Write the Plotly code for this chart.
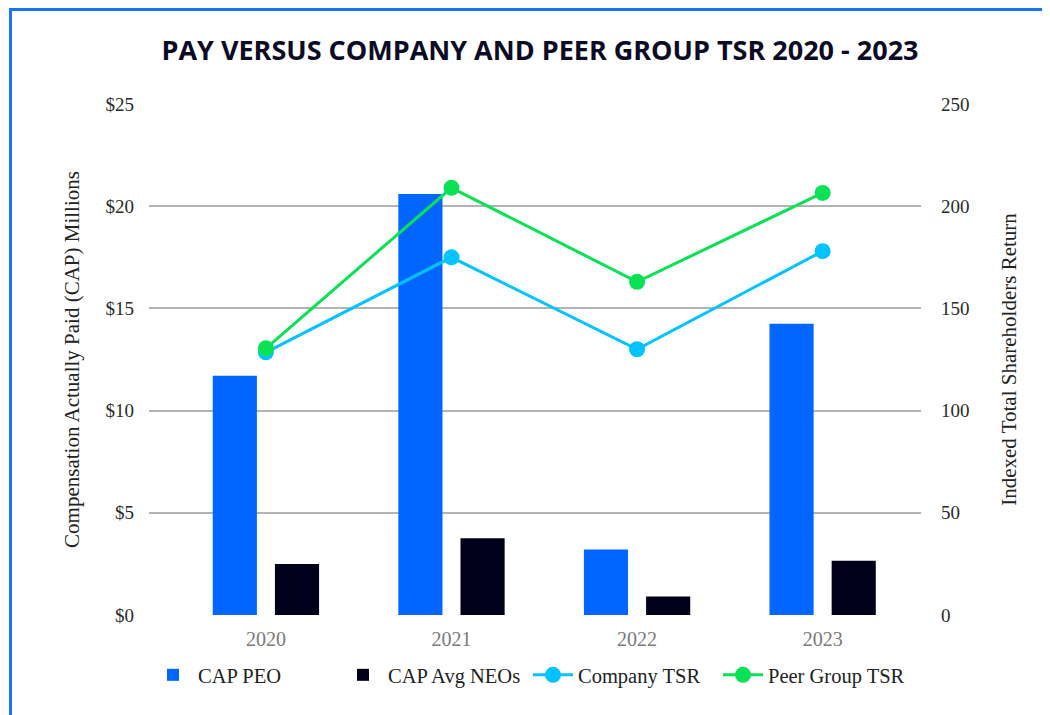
import plotly.graph_objects as go

years = ["2020", "2021", "2022", "2023"]
cap_peo = [11.7, 20.6, 3.2, 14.25]
cap_neo = [2.5, 3.75, 0.9, 2.65]
company_tsr = [128.5, 175, 130, 178]
peer_tsr = [130.5, 209, 163, 206.5]

W, H = 1050, 715
OFF = 8  # page body margin offset
ML, MT = 149 - OFF, 104 - OFF
MR = W - (921 - OFF)
MB = H - (615 - OFF)
PW, PH = W - ML - MR, H - MT - MB

SERIF = "Liberation Serif, Times New Roman, serif"

fig = go.Figure()
fig.add_trace(go.Bar(x=years, y=cap_peo, name="CAP PEO", marker_color="#0066ff", marker_line_width=0))
fig.add_trace(go.Bar(x=years, y=cap_neo, name="CAP Avg NEOs", marker_color="#00001a", marker_line_width=0))
fig.add_trace(go.Scatter(x=years, y=company_tsr, name="Company TSR", yaxis="y2", mode="lines+markers",
                         line=dict(color="#00c3ff", width=3), marker=dict(size=16, color="#00c3ff")))
fig.add_trace(go.Scatter(x=years, y=peer_tsr, name="Peer Group TSR", yaxis="y2", mode="lines+markers",
                         line=dict(color="#0be155", width=3), marker=dict(size=16, color="#0be155")))

def px2x(px):
    return (px - ML) / PW

def px2y(py):
    return (H - MB - py) / PH

fig.update_layout(
    width=W, height=H,
    margin=dict(l=ML, r=MR, t=MT, b=MB, autoexpand=False),
    paper_bgcolor="white", plot_bgcolor="white",
    barmode="group", bargap=0.33, bargroupgap=0.29,
    title=dict(text="<b>PAY VERSUS COMPANY AND PEER GROUP TSR 2020 - 2023</b>",
               font=dict(family="Open Sans, sans-serif", size=27, color="#0b0b26"),
               x=(540 - OFF) / W, xanchor="center", y=1 - (51 - OFF) / H, yanchor="middle"),
    xaxis=dict(type="category", range=[-0.63, 3.53], showgrid=False, showline=False, zeroline=False,
               ticks="", tickfont=dict(family=SERIF, size=20, color="#7a7a7a"), ticklabelstandoff=10),
    yaxis=dict(range=[0, 25], dtick=5, tickprefix="$", showgrid=True, gridcolor="#b4b4b4", gridwidth=1.5,
               zeroline=False, showline=False, ticks="",
               tickfont=dict(family=SERIF, size=19, color="#2a2a2a"), ticklabelstandoff=14,
               title=dict(text="Compensation Actually Paid (CAP) Millions",
                          font=dict(family=SERIF, size=21, color="#222222"), standoff=20)),
    yaxis2=dict(range=[0, 250], dtick=50, overlaying="y", side="right", showgrid=False,
                zeroline=False, showline=False, ticks="",
                tickfont=dict(family=SERIF, size=19, color="#2a2a2a"), ticklabelstandoff=19,
                title=dict(text="Indexed Total Shareholders Return",
                           font=dict(family=SERIF, size=21, color="#222222"), standoff=32)),
    legend=dict(orientation="h", xref="container", yref="container",
                x=(148 - OFF) / W, xanchor="left", y=1 - (675 - OFF) / H, yanchor="middle",
                font=dict(family=SERIF, size=20.5, color="#222222"), itemwidth=40,
                bgcolor="rgba(0,0,0,0)",
                entrywidth=135, entrywidthmode="pixels", traceorder="normal"),
    shapes=[dict(type="rect", xref="paper", yref="paper",
                 x0=px2x(10.5 - OFF), x1=px2x(1046 - OFF), y0=px2y(740), y1=px2y(1.5),
                 line=dict(color="#1a73f5", width=3), fillcolor="rgba(0,0,0,0)", layer="below")],
)

fig.write_html("out.html")
